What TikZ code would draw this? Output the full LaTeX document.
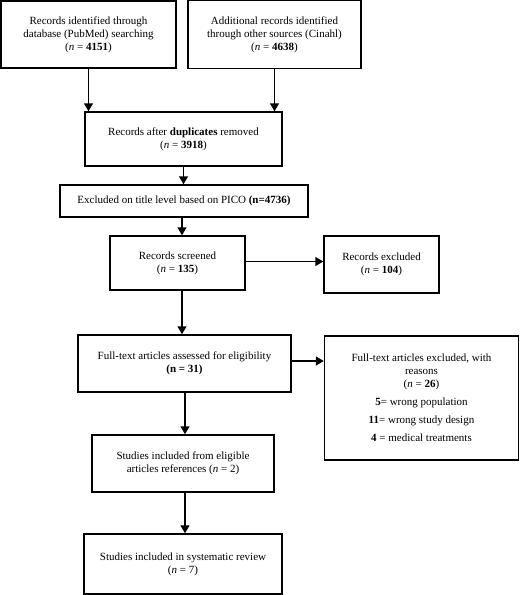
\documentclass[tikz,border=0pt]{standalone}
\usepackage{fontspec}
\setmainfont{Liberation Serif}
\usetikzlibrary{arrows.meta}
\newcommand{\nn}{\textit{n}}
\begin{document}
\begin{tikzpicture}[x=1pt,y=-1pt,
  box/.style={draw, line width=1.5pt, align=center, inner sep=0pt,
    font=\fontsize{11}{13}\selectfont},
  arr/.style={line width=1.5pt, -{Triangle[width=9pt,length=8pt]}}]
\useasboundingbox (0,0) rectangle (520,595);
\node[box, minimum width=175pt, minimum height=67pt] (b1) at (88.5,34.5)
  {Records identified through\\database (PubMed) searching\\(\nn{} = \textbf{4151})};
\node[box, minimum width=173pt, minimum height=68pt] (b2) at (274.5,34.5)
  {Additional records identified\\through other sources (Cinahl)\\(\nn{} = \textbf{4638})};
\node[box, minimum width=197pt, minimum height=54pt] (b3) at (183.5,139)
  {Records after \textbf{duplicates} removed\\(\nn{} = \textbf{3918})};
\node[box, minimum width=248pt, minimum height=32pt] (b4) at (184,201)
  {Excluded on title level based on PICO \textbf{(n=4736)}};
\node[box, minimum width=135pt, minimum height=54pt] (b5) at (177.5,263)
  {Records screened\\(\nn{} = \textbf{135})};
\node[box, minimum width=115pt, minimum height=57pt] (b6) at (381.5,264.5)
  {Records excluded\\(\nn{} = \textbf{104})};
\node[box, minimum width=213pt, minimum height=57pt] (b7) at (184.5,363.5)
  {Full-text articles assessed for eligibility\\\textbf{(n = 31)}};
\node[box, minimum width=194pt, minimum height=124pt] (b8) at (421.5,398)
  {Full-text articles excluded, with\\reasons\\(\nn{} = \textbf{26})\\[5pt]
   \textbf{5}= wrong population\\[5pt]\textbf{11}= wrong study design\\[5pt]\textbf{4} = medical treatments};
\node[box, minimum width=182pt, minimum height=57pt] (b9) at (183,463.5)
  {Studies included from eligible\\articles references (\nn{} = 2)};
\node[box, minimum width=198pt, minimum height=60pt] (b10) at (183,564)
  {Studies included in systematic review\\(\nn{} = 7)};
\draw[arr] (b1.south) -- (b1.south |- b3.north);
\draw[arr] (b2.south) -- (b2.south |- b3.north);
\draw[arr] (b3.south) -- (b3.south |- b4.north);
\draw[arr] ([xshift=4.5pt]b5.north |- b4.south) -- ([xshift=4.5pt]b5.north);
\draw[arr] ([yshift=3pt]b5.east |- b6.west) -- ([yshift=3pt]b6.west);
\draw[arr] ([xshift=4.5pt]b5.south) -- ([xshift=4.5pt]b5.south |- b7.north);
\draw[arr] ([yshift=2.5pt]b7.east) -- ([yshift=2.5pt]b7.east -| b8.west);
\draw[arr] ([xshift=2pt]b9.north |- b7.south) -- ([xshift=2pt]b9.north);
\draw[arr] ([xshift=2pt]b9.south) -- ([xshift=2pt]b9.south |- b10.north);
\end{tikzpicture}
\end{document}
